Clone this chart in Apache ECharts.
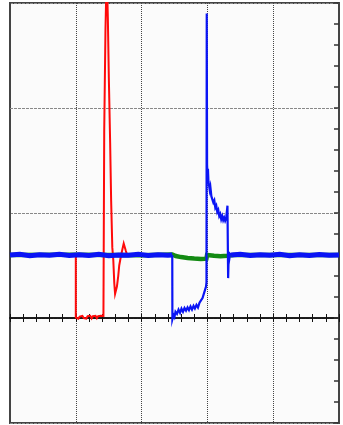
<!DOCTYPE html>
<html>
<head>
<meta charset="utf-8">
<script src="https://cdn.jsdelivr.net/npm/echarts@6/dist/echarts.min.js"></script>
<style>
  html, body { margin: 0; padding: 0; background: #ffffff; }
  #scope { width: 343px; height: 425px; }
</style>
</head>
<body>
<div id="scope"></div>
<script>
// Screen units: x in horizontal divisions (0..5), y in vertical divisions (-1..3).
const xDivs = { min: 0, max: 5, major: 1, minor: 0.2 };
const yDivs = { min: -1, max: 3, major: 1, minor: 0.2 };

// Channel 1 (red): drops to zero, fires a large pulse, rings and settles.
const redTrace = [
  [0, 0.6], [1.0, 0.6], [1.0, 0.005],
  [1.02, 0.018], [1.04, -0.006], [1.06, 0.014], [1.08, -0.004], [1.10, 0.02],
  [1.12, 0.0], [1.14, 0.016], [1.16, -0.005], [1.18, 0.018], [1.20, 0.002],
  [1.22, 0.02], [1.24, -0.004], [1.26, 0.017], [1.28, 0.001], [1.30, 0.021],
  [1.32, -0.003], [1.34, 0.018], [1.36, 0.003], [1.38, 0.022], [1.40, 0.004],
  [1.42, 0.02], [1.43, 0.01],
  [1.432, 1.79], [1.449, 1.79], [1.451, 2.75], [1.468, 2.75], [1.47, 3.3],
  [1.485, 3.3], [1.487, 2.86], [1.50, 2.86], [1.502, 2.29], [1.52, 2.29],
  [1.522, 1.67], [1.535, 1.67], [1.537, 1.12], [1.552, 1.12], [1.555, 0.67],
  [1.57, 0.55], [1.585, 0.33], [1.597, 0.23], [1.608, 0.22], [1.625, 0.30],
  [1.645, 0.40], [1.66, 0.50], [1.686, 0.59], [1.71, 0.66], [1.728, 0.71],
  [1.745, 0.70], [1.76, 0.64], [1.78, 0.60], [2.466, 0.6], [2.6, 0.58],
  [2.8, 0.568], [2.985, 0.566], [2.995, 0.6], [5, 0.6]
];

// Channel 2 (green): flat, sagging slightly while channel 3 is pulled low.
const greenTrace = [
  [0, 0.6], [1.0, 0.602], [2.0, 0.598], [2.466, 0.605], [2.52, 0.59],
  [2.6, 0.58], [2.7, 0.572], [2.8, 0.566], [2.9, 0.562], [2.985, 0.565],
  [2.995, 0.6], [3.1, 0.592], [3.2, 0.588], [3.3, 0.592], [3.4, 0.6], [5, 0.6]
];

// Channel 3 (blue): quiet baseline before the event.
const blueBaseLeft = [
  [0, 0.600], [0.15, 0.606], [0.3, 0.594], [0.45, 0.603], [0.6, 0.597],
  [0.75, 0.607], [0.9, 0.595], [1.05, 0.602], [1.2, 0.596], [1.35, 0.606],
  [1.5, 0.594], [1.65, 0.601], [1.8, 0.598], [1.95, 0.606], [2.1, 0.595],
  [2.25, 0.603], [2.4, 0.597], [2.466, 0.6]
];

// Channel 3 (blue): pull-down, ramp, spike, decay and kick.
const blueEvent = [
  [2.466, 0.6], [2.468, -0.01], [2.485, 0.03], [2.50, 0.01], [2.515, 0.06],
  [2.538, 0.04], [2.561, 0.08], [2.584, 0.05], [2.606, 0.09], [2.629, 0.06],
  [2.652, 0.095], [2.675, 0.07], [2.698, 0.10], [2.72, 0.075], [2.743, 0.11],
  [2.766, 0.08], [2.789, 0.115], [2.81, 0.09], [2.834, 0.125], [2.857, 0.10],
  [2.88, 0.145], [2.903, 0.13], [2.926, 0.19], [2.948, 0.20], [2.963, 0.265],
  [2.979, 0.30], [2.986, 0.34],
  [2.99, 2.90], [2.995, 1.46],
  [3.0, 1.38], [3.008, 1.42], [3.016, 1.30], [3.024, 1.31], [3.035, 1.22],
  [3.045, 1.25], [3.06, 1.16], [3.075, 1.17], [3.09, 1.10], [3.105, 1.12],
  [3.12, 1.05], [3.135, 1.07], [3.15, 1.01], [3.165, 1.03], [3.18, 0.97],
  [3.195, 0.99], [3.21, 0.94], [3.225, 0.97], [3.24, 0.93], [3.255, 0.955],
  [3.27, 0.925], [3.285, 0.95], [3.295, 0.94],
  [3.305, 1.07], [3.315, 0.38], [3.325, 0.63], [3.335, 0.57], [3.345, 0.61],
  [3.36, 0.60]
];

// Channel 3 (blue): baseline after the event.
const blueBaseRight = [
  [3.36, 0.600], [3.5, 0.606], [3.65, 0.595], [3.8, 0.603], [3.95, 0.597],
  [4.1, 0.607], [4.25, 0.594], [4.4, 0.602], [4.55, 0.596], [4.7, 0.605],
  [4.85, 0.597], [5, 0.601]
];

const RED = '#ff0a0a';
const GREEN = '#138a13';
const BLUE = '#0a14f5';

function trace(data, color, width) {
  return {
    type: 'line',
    data: data,
    xAxisIndex: 0,
    yAxisIndex: 0,
    showSymbol: false,
    symbol: 'none',
    clip: true,
    silent: true,
    lineStyle: { color: color, width: width, join: 'miter' }
  };
}

const hiddenLabel = { show: false };

const option = {
  animation: false,
  backgroundColor: '#ffffff',
  grid: {
    left: 10, top: 3, right: 4, bottom: 2,
    show: true,
    backgroundColor: '#fbfbfb',
    borderColor: '#444444',
    borderWidth: 2
  },
  xAxis: [
    {
      // major divisions: dotted vertical graticule
      type: 'value', min: xDivs.min, max: xDivs.max, interval: xDivs.major,
      axisLine: { show: false, onZero: false }, axisTick: { show: false },
      axisLabel: hiddenLabel,
      splitLine: { show: true, lineStyle: { color: '#444444', width: 1, type: [1, 1] } }
    },
    {
      // centre line with minor ticks pointing down
      type: 'value', min: xDivs.min, max: xDivs.max, interval: xDivs.minor,
      position: 'bottom',
      axisLine: { show: true, onZero: true, onZeroAxisIndex: 0, lineStyle: { color: '#111111', width: 1.5 } },
      axisTick: { show: true, inside: false, length: 4, lineStyle: { color: '#111111', width: 1 } },
      axisLabel: hiddenLabel, splitLine: { show: false }
    },
    {
      // centre line minor ticks pointing up
      type: 'value', min: xDivs.min, max: xDivs.max, interval: xDivs.minor,
      position: 'bottom',
      axisLine: { show: true, onZero: true, onZeroAxisIndex: 0, lineStyle: { color: '#111111', width: 1.5 } },
      axisTick: { show: true, inside: true, length: 4, lineStyle: { color: '#111111', width: 1 } },
      axisLabel: hiddenLabel, splitLine: { show: false }
    }
  ],
  yAxis: [
    {
      type: 'value', min: yDivs.min, max: yDivs.max, interval: yDivs.major,
      axisLine: { show: false, onZero: false }, axisTick: { show: false },
      axisLabel: hiddenLabel,
      splitLine: { show: true, lineStyle: { color: '#888888', width: 1, type: [3, 1] } }
    },
    {
      // right-hand edge minor ticks
      type: 'value', min: yDivs.min, max: yDivs.max, interval: yDivs.minor,
      position: 'right',
      axisLine: { show: false, onZero: false },
      axisTick: { show: true, inside: true, length: 5, lineStyle: { color: '#333333', width: 1.5 } },
      axisLabel: hiddenLabel, splitLine: { show: false }
    }
  ],
  series: [
    trace(redTrace, RED, 2),
    trace(greenTrace, GREEN, 4.5),
    trace(blueBaseLeft, BLUE, 5),
    trace(blueEvent, BLUE, 2.2),
    trace(blueBaseRight, BLUE, 5)
  ]
};

const chart = echarts.init(document.getElementById('scope'), null, { renderer: 'canvas' });
chart.setOption(option);
</script>
</body>
</html>
